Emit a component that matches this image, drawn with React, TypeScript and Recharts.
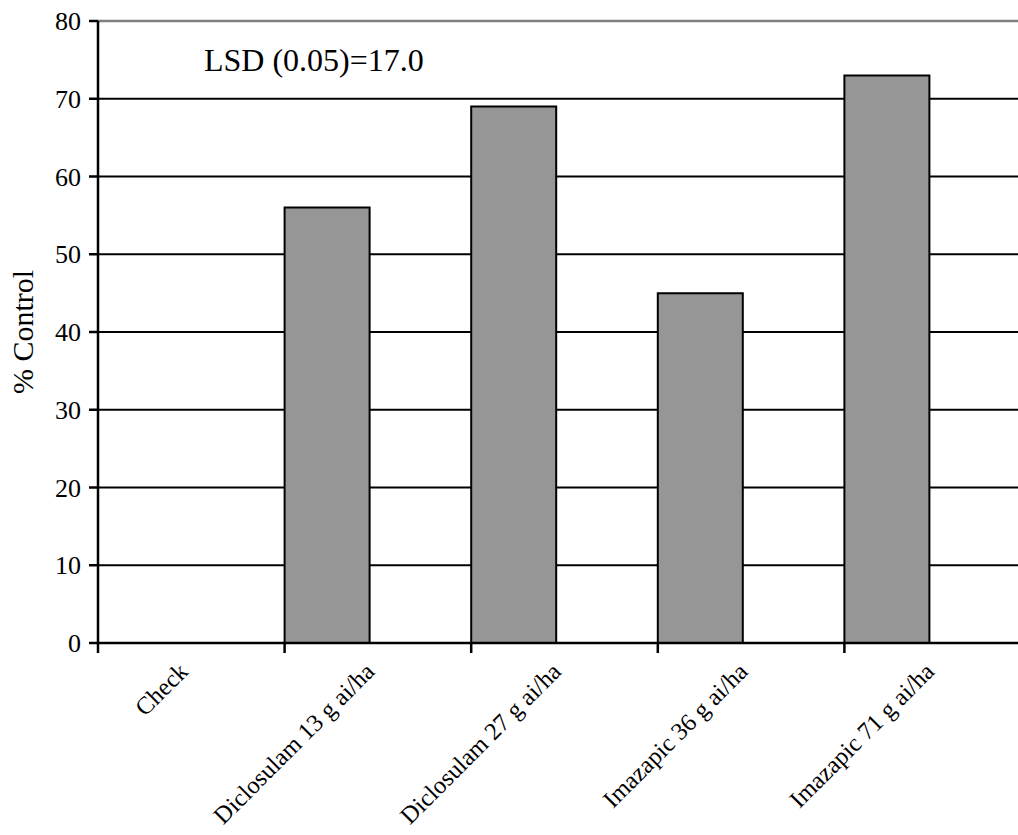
import { BarChart, Bar, XAxis, YAxis, CartesianGrid, ReferenceLine, Label } from "recharts";

const treatments = [
  "Check",
  "Diclosulam 13 g ai/ha",
  "Diclosulam 27 g ai/ha",
  "Imazapic 36 g ai/ha",
  "Imazapic 71 g ai/ha",
];
const controlPct = [0, 56, 69, 45, 73];
// empty second slot of each cluster (keeps bars on the left half of the category)
const spacer = [null, null, null, null, null];
const yTicks = [0, 10, 20, 30, 40, 50, 60, 70, 80];

const data = treatments.map((name, i) => ({ name, control: controlPct[i], spacer: spacer[i] }));

const FONT = "'Liberation Serif', 'Times New Roman', serif";

const CategoryTick = (props: any) => {
  const { x, y, payload, width } = props;
  const half = payload?.offset ?? width / (2 * treatments.length);
  const tx = x - 2;
  const ty = y + 20;
  return (
    <g>
      <line x1={x - half} y1={y - 10} x2={x - half} y2={y} stroke="#000" strokeWidth={2.5} />
      <text
        x={tx}
        y={ty}
        textAnchor="end"
        fontFamily={FONT}
        fontSize={24.5}
        fill="#000"
        transform={`rotate(-45, ${tx}, ${ty})`}
      >
        {payload.value}
      </text>
    </g>
  );
};

export default function App() {
  return (
    <div style={{ position: "absolute", left: 0, top: 0, width: 1018, height: 835, overflow: "hidden", background: "#fff" }}>
      <BarChart
        width={1031}
        height={835}
        data={data}
        margin={{ top: 21, right: 0, left: 0, bottom: 0 }}
        barSize={85}
        barGap={16}
      >
        <CartesianGrid
          vertical={false}
          horizontalValues={yTicks.filter((v) => v > 0 && v < 80)}
          stroke="#000"
          strokeWidth={2}
        />
        <XAxis
          dataKey="name"
          interval={0}
          height={192}
          tickLine={false}
          tickSize={10}
          tickMargin={0}
          tick={<CategoryTick />}
          axisLine={{ stroke: "#000", strokeWidth: 2.5 }}
        />
        <YAxis
          width={98}
          domain={[0, 80]}
          ticks={yTicks}
          interval={0}
          tickSize={9}
          tickMargin={8}
          axisLine={{ stroke: "#000", strokeWidth: 2.5 }}
          tickLine={{ stroke: "#000", strokeWidth: 2.5 }}
          tick={{ fill: "#000", fontSize: 26, fontFamily: FONT }}
        >
          <Label
            content={({ viewBox }: any) => {
              const cx = 33;
              const cy = viewBox.y + viewBox.height / 2;
              return (
                <text
                  x={cx}
                  y={cy}
                  textAnchor="middle"
                  fontFamily={FONT}
                  fontSize={30}
                  fill="#000"
                  transform={`rotate(-90, ${cx}, ${cy})`}
                >
                  % Control
                </text>
              );
            }}
          />
        </YAxis>
        <ReferenceLine
          y={80}
          stroke="#808080"
          strokeWidth={2.5}
          label={({ viewBox }: any) => (
            <text x={viewBox.x + 106} y={viewBox.y + 50} fontFamily={FONT} fontSize={32} fill="#000">
              LSD (0.05)=17.0
            </text>
          )}
        />
        <Bar dataKey="control" fill="#969696" stroke="#000" strokeWidth={2} isAnimationActive={false} />
        <Bar dataKey="spacer" fill="#969696" stroke="#000" strokeWidth={2} isAnimationActive={false} />
      </BarChart>
    </div>
  );
}
